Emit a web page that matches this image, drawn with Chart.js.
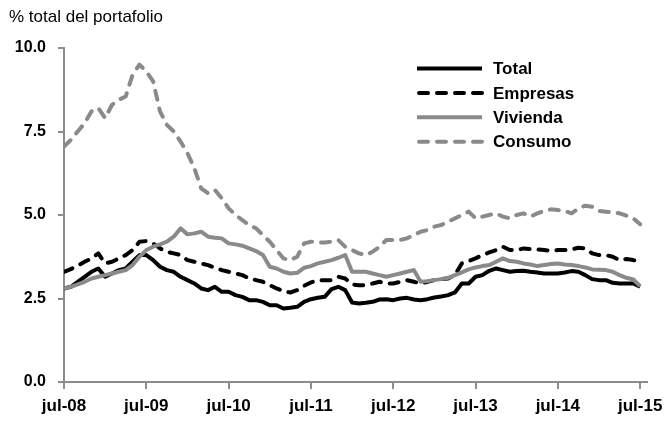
<!DOCTYPE html>
<html>
<head>
<meta charset="utf-8">
<script src="https://cdn.jsdelivr.net/npm/chart.js@4"></script>
<style>
  html, body { margin: 0; padding: 0; background: #fff; }
  #wrap { width: 668px; height: 424px; }
</style>
</head>
<body>
<div id="wrap"><canvas id="chart" width="668" height="424"></canvas></div>
<script>
  const months = [
    'jul-08','ago-08','sep-08','oct-08','nov-08','dic-08','ene-09','feb-09','mar-09','abr-09','may-09','jun-09',
    'jul-09','ago-09','sep-09','oct-09','nov-09','dic-09','ene-10','feb-10','mar-10','abr-10','may-10','jun-10',
    'jul-10','ago-10','sep-10','oct-10','nov-10','dic-10','ene-11','feb-11','mar-11','abr-11','may-11','jun-11',
    'jul-11','ago-11','sep-11','oct-11','nov-11','dic-11','ene-12','feb-12','mar-12','abr-12','may-12','jun-12',
    'jul-12','ago-12','sep-12','oct-12','nov-12','dic-12','ene-13','feb-13','mar-13','abr-13','may-13','jun-13',
    'jul-13','ago-13','sep-13','oct-13','nov-13','dic-13','ene-14','feb-14','mar-14','abr-14','may-14','jun-14',
    'jul-14','ago-14','sep-14','oct-14','nov-14','dic-14','ene-15','feb-15','mar-15','abr-15','may-15','jun-15',
    'jul-15'
  ];

  const total = [
    2.80, 2.85, 3.00, 3.15, 3.30, 3.40, 3.15, 3.25, 3.35, 3.40, 3.60, 3.80,
    3.80, 3.65, 3.45, 3.35, 3.30, 3.15, 3.05, 2.95, 2.80, 2.75, 2.85, 2.70,
    2.70, 2.60, 2.55, 2.45, 2.45, 2.40, 2.30, 2.30, 2.20, 2.22, 2.25, 2.40,
    2.48, 2.52, 2.55, 2.78, 2.85, 2.75, 2.38, 2.35, 2.37, 2.40, 2.47, 2.48,
    2.45, 2.50, 2.52, 2.47, 2.45, 2.48, 2.53, 2.56, 2.60, 2.68, 2.95, 2.95,
    3.15, 3.20, 3.33, 3.40, 3.35, 3.30, 3.32, 3.33, 3.30, 3.28, 3.25, 3.25,
    3.25, 3.28, 3.32, 3.30, 3.20, 3.08, 3.05, 3.05, 2.97, 2.95, 2.95, 2.95,
    2.85
  ];

  const empresas = [
    3.30, 3.38, 3.48, 3.60, 3.70, 3.85, 3.55, 3.60, 3.70, 3.80, 3.95, 4.20,
    4.22, 4.15, 4.00, 3.90, 3.85, 3.80, 3.65, 3.60, 3.55, 3.50, 3.42, 3.35,
    3.30, 3.25, 3.20, 3.10, 3.05, 3.00, 2.90, 2.80, 2.72, 2.68, 2.75, 2.88,
    2.98, 3.05, 3.05, 3.05, 3.15, 3.10, 2.92, 2.90, 2.90, 2.95, 3.00, 2.95,
    2.95, 3.00, 3.05, 3.00, 2.95, 3.00, 3.05, 3.08, 3.10, 3.20, 3.55, 3.62,
    3.70, 3.80, 3.88, 3.95, 4.05, 3.95, 3.95, 4.00, 3.98, 3.97, 3.95, 3.93,
    3.95, 3.95, 3.97, 4.02, 4.00, 3.85, 3.80, 3.80, 3.75, 3.65, 3.68, 3.65,
    3.60
  ];

  const vivienda = [
    2.80, 2.85, 2.92, 3.00, 3.10, 3.15, 3.20, 3.25, 3.30, 3.35, 3.50, 3.75,
    3.95, 4.05, 4.12, 4.20, 4.35, 4.60, 4.42, 4.45, 4.50, 4.35, 4.32, 4.30,
    4.15, 4.12, 4.08, 4.00, 3.92, 3.80, 3.45, 3.40, 3.30, 3.25, 3.27, 3.42,
    3.47, 3.55, 3.60, 3.65, 3.72, 3.80, 3.30, 3.30, 3.30, 3.25, 3.20, 3.15,
    3.20, 3.25, 3.30, 3.35, 3.00, 3.02, 3.05, 3.08, 3.12, 3.20, 3.28, 3.37,
    3.43, 3.47, 3.50, 3.60, 3.70, 3.62, 3.60, 3.55, 3.52, 3.47, 3.50, 3.53,
    3.55, 3.52, 3.50, 3.47, 3.43, 3.37, 3.36, 3.35, 3.30, 3.20, 3.12, 3.07,
    2.87
  ];

  const consumo = [
    7.05, 7.25, 7.50, 7.75, 8.10, 8.20, 7.90, 8.30, 8.45, 8.55, 9.20, 9.50,
    9.30, 9.00, 8.10, 7.70, 7.50, 7.20, 6.85, 6.40, 5.80, 5.65, 5.75, 5.50,
    5.20, 5.00, 4.85, 4.70, 4.60, 4.40, 4.20, 3.95, 3.70, 3.65, 3.75, 4.15,
    4.20, 4.18, 4.18, 4.20, 4.25, 4.05, 3.95, 3.85, 3.80, 3.90, 4.05, 4.25,
    4.25, 4.25, 4.30, 4.40, 4.50, 4.55, 4.65, 4.70, 4.80, 4.90, 5.00, 5.10,
    4.90, 4.95, 5.00, 5.05, 4.95, 4.90, 5.00, 5.05, 4.95, 5.05, 5.12, 5.17,
    5.15, 5.12, 5.05, 5.20, 5.28, 5.25, 5.12, 5.10, 5.08, 5.05, 4.98, 4.90,
    4.72
  ];

  const seriesNames = ['Total', 'Empresas', 'Vivienda', 'Consumo'];
  const yTicks = [0, 2.5, 5, 7.5, 10];

  const BLACK = '#000000';
  const GREY = '#8a8a8a';
  const AXIS = '#8c8c8c';
  const DASH = [9, 9];

  function lineSet(label, data, color, dashed, order) {
    return {
      label: label,
      data: data,
      borderColor: color,
      backgroundColor: color,
      borderWidth: 4,
      borderDash: dashed ? DASH : [],
      borderCapStyle: dashed ? 'round' : 'butt',
      borderJoinStyle: 'round',
      pointRadius: 0,
      tension: 0,
      fill: false,
      order: order
    };
  }

  // title + legend drawn by hand to sit where the original puts them
  const extras = {
    id: 'extras',
    afterDraw(chart) {
      const ctx = chart.ctx;
      ctx.save();
      ctx.fillStyle = '#000';
      ctx.font = '17px "Liberation Sans", Arial, sans-serif';
      ctx.textBaseline = 'alphabetic';
      ctx.textAlign = 'left';
      ctx.fillText('% total del portafolio', 9, 22);

      const x0 = 417, x1 = 482, tx = 493;
      ctx.font = 'bold 17px "Liberation Sans", Arial, sans-serif';
      ctx.textBaseline = 'middle';
      chart.data.datasets.forEach((ds, i) => {
        const y = 68.5 + i * 24.4;
        ctx.beginPath();
        ctx.strokeStyle = ds.borderColor;
        ctx.lineWidth = 4;
        ctx.setLineDash(ds.borderDash);
        ctx.lineCap = ds.borderCapStyle;
        const pad = ds.borderDash.length ? 2 : 0;
        ctx.moveTo(x0 + pad, y);
        ctx.lineTo(x1, y);
        ctx.stroke();
        ctx.setLineDash([]);
        ctx.fillText(ds.label, tx, y + 1);
      });
      ctx.restore();
    }
  };

  new Chart(document.getElementById('chart'), {
    type: 'line',
    data: {
      labels: months.map((_, i) => i),
      datasets: [
        lineSet(seriesNames[0], total, BLACK, false, 3),
        lineSet(seriesNames[1], empresas, BLACK, true, 2),
        lineSet(seriesNames[2], vivienda, GREY, false, 1),
        lineSet(seriesNames[3], consumo, GREY, true, 0)
      ]
    },
    options: {
      responsive: false,
      animation: false,
      devicePixelRatio: 1,
      layout: { padding: { top: 48, right: 21, left: 0, bottom: 0 } },
      plugins: { legend: { display: false }, tooltip: { enabled: false } },
      scales: {
        x: {
          type: 'linear',
          min: 0,
          max: months.length,
          afterFit: s => { s.height = 42; s.paddingLeft = 0; s.paddingRight = 0; },
          ticks: {
            stepSize: 12,
            includeBounds: false,
            autoSkip: false,
            maxRotation: 0,
            padding: 7,
            color: '#000',
            font: { family: '"Liberation Sans", Arial, sans-serif', size: 17, weight: 'bold' },
            callback: v => months[v]
          },
          grid: { drawOnChartArea: false, drawTicks: true, tickLength: 7, color: AXIS, lineWidth: 2 },
          border: { color: AXIS, width: 2 }
        },
        y: {
          min: 0,
          max: 10,
          afterFit: s => { s.width = 64; s.paddingTop = 0; s.paddingBottom = 0; },
          afterBuildTicks: s => { s.ticks = yTicks.map(v => ({ value: v })); },
          ticks: {
            padding: 12,
            color: '#000',
            font: { family: '"Liberation Sans", Arial, sans-serif', size: 16, weight: 'bold' },
            callback: v => v.toFixed(1)
          },
          grid: { drawOnChartArea: false, drawTicks: true, tickLength: 6, color: AXIS, lineWidth: 2 },
          border: { color: AXIS, width: 2 }
        }
      }
    },
    plugins: [extras]
  });
</script>
</body>
</html>
